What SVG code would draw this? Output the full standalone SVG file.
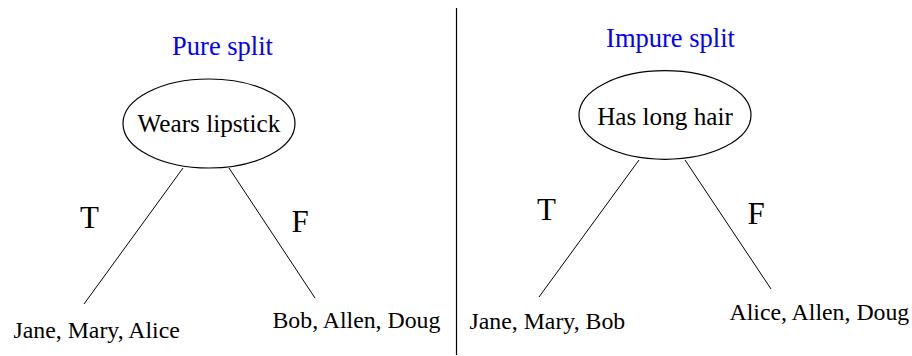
<svg xmlns="http://www.w3.org/2000/svg" width="912" height="356" viewBox="0 0 912 356">
<style>
text{font-family:"Liberation Serif","Times New Roman",serif;fill:#000}
.title{fill:#0000ff;font-size:26.5px;text-anchor:middle}
.node{fill:#fff;stroke:#000;stroke-width:1.2}
.nl{font-size:25.2px;text-anchor:middle}
.edge{stroke:#000;stroke-width:1;fill:none}
.el{font-size:31px;text-anchor:middle}
.leaf{font-size:23.8px}
</style>
<rect width="912" height="356" fill="#fff"/>
<line x1="456.5" y1="8" x2="456.5" y2="355" stroke="#000" stroke-width="1.2"/>
<text class="title" x="222.5" y="55" font-family="Liberation Serif">Pure split</text>
<text class="title" x="670.5" y="47" font-family="Liberation Serif">Impure split</text>
<g id="connectors">
<line class="edge" x1="183" y1="168" x2="84" y2="304"/>
<line class="edge" x1="229" y1="168" x2="315" y2="298"/>
<line class="edge" x1="639" y1="160" x2="539" y2="297"/>
<line class="edge" x1="685" y1="160" x2="771" y2="289"/>
<text class="el" x="89.5" y="228" font-family="Liberation Serif">T</text>
<text class="el" x="300" y="232" font-family="Liberation Serif">F</text>
<text class="el" x="546.5" y="219.5" font-family="Liberation Serif">T</text>
<text class="el" x="756" y="223.5" font-family="Liberation Serif">F</text>
</g>
<g id="wears-lipstick">
<ellipse class="node" cx="209" cy="123.5" rx="86" ry="44.5"/>
<text class="nl" x="209" y="132" font-family="Liberation Serif">Wears lipstick</text>
</g>
<g id="has-long-hair">
<ellipse class="node" cx="665" cy="115" rx="86" ry="44.3"/>
<text class="nl" x="665" y="125" font-family="Liberation Serif">Has long hair</text>
</g>
<g id="leaf-jane-mary-alice"><text class="leaf" x="13.5" y="338" font-family="Liberation Serif">Jane, Mary, Alice</text></g>
<g id="leaf-bob-allen-doug"><text class="leaf" x="272.5" y="328" font-family="Liberation Serif">Bob, Allen, Doug</text></g>
<g id="leaf-jane-mary-bob"><text class="leaf" x="469.5" y="328.5" font-family="Liberation Serif">Jane, Mary, Bob</text></g>
<g id="leaf-alice-allen-doug"><text class="leaf" x="729.5" y="320" font-family="Liberation Serif">Alice, Allen, Doug</text></g>
</svg>
